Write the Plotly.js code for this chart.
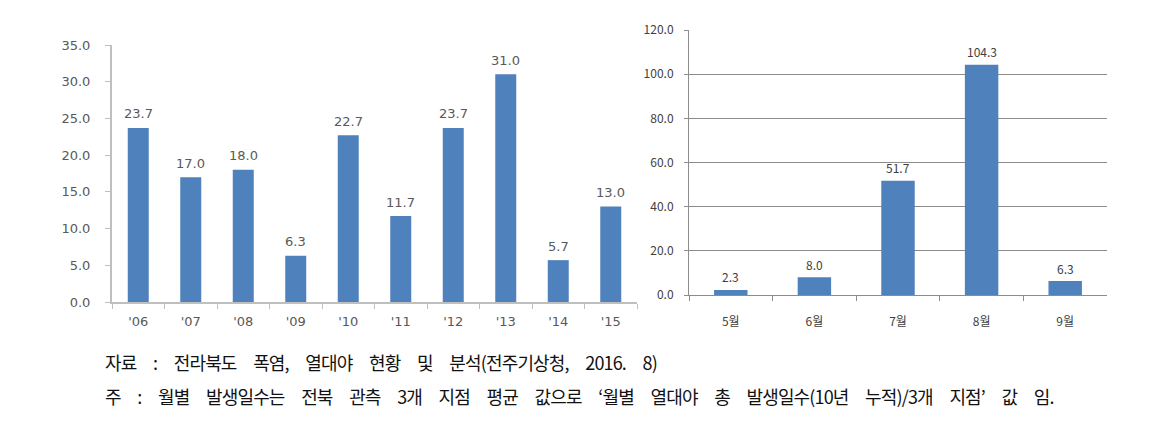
<!DOCTYPE html>
<html><head><meta charset="utf-8">
<script src="https://cdn.plot.ly/plotly-3.0.1.min.js"></script>
<style>html,body{margin:0;padding:0;background:#fff}#c{width:1162px;height:432px}</style>
</head><body><div id="c"></div>
<script>
const years = ["'06","'07","'08","'09","'10","'11","'12","'13","'14","'15"];
const yearDays = [23.7,17.0,18.0,6.3,22.7,11.7,23.7,31.0,5.7,13.0];
const months = ["5월","6월","7월","8월","9월"];
const monthDays = [2.3,8.0,51.7,104.3,6.3];
const leftTicks = [0,5,10,15,20,25,30,35];
const rightTicks = [0,20,40,60,80,100,120];
const note1 = "자료 : 전라북도 폭염, 열대야 현황 및 분석(전주기상청, 2016. 8)";
const note2 = "주 : 월별 발생일수는 전북 관측 3개 지점 평균 값으로 ‘월별 열대야 총 발생일수(10년 누적)/3개 지점’ 값 임.";

const W=1162,H=432;
const blue = "#4F81BD";
const fL = {family:"DejaVu Sans, Verdana, sans-serif", size:13, color:"#595959"};
const fR = {family:"Noto Sans CJK KR, sans-serif", size:12, color:"#404040"};

const traces = [
  {type:"bar", x:years, y:yearDays, xaxis:"x", yaxis:"y", marker:{color:blue}, width:0.4, hoverinfo:"none"},
  {type:"bar", x:months, y:monthDays, xaxis:"x2", yaxis:"y2", marker:{color:blue}, width:0.4, hoverinfo:"none"}
];
const ann = [];
years.forEach((c,i)=>ann.push({x:c,y:yearDays[i],xref:"x",yref:"y",text:yearDays[i].toFixed(1),showarrow:false,yshift:14,font:fL}));
months.forEach((c,i)=>ann.push({x:c,y:monthDays[i],xref:"x2",yref:"y2",text:monthDays[i].toFixed(1),showarrow:false,yshift:13,font:fR}));
const nf = {family:"Noto Sans CJK KR, sans-serif", size:18, color:"#111"};
const sp = t => '<span style="word-spacing:13.4px;letter-spacing:-0.85px">'+t+'</span>';
ann.push({xref:"paper",yref:"paper",x:103/W,y:1-362/H,xanchor:"left",yanchor:"middle",text:sp(note1),showarrow:false,font:nf});
ann.push({xref:"paper",yref:"paper",x:103/W,y:1-396/H,xanchor:"left",yanchor:"middle",text:sp(note2),showarrow:false,font:nf});

const layout = {
  width:W, height:H, margin:{l:0,r:0,t:0,b:0}, showlegend:false,
  paper_bgcolor:"#fff", plot_bgcolor:"rgba(0,0,0,0)",
  xaxis:{domain:[112/W,637/W], anchor:"y", type:"category", showline:true, linecolor:"#BFBFBF", linewidth:2,
    ticks:"outside", tickson:"boundaries", ticklen:5, tickcolor:"#BFBFBF", tickwidth:1, showgrid:false, zeroline:false, tickfont:fL, ticklabelstandoff:6},
  yaxis:{domain:[1-302/H,1-45/H], anchor:"x", range:[0,35], tickvals:leftTicks, ticktext:leftTicks.map(v=>v.toFixed(1)),
    showline:true, linecolor:"#BFBFBF", linewidth:2, ticks:"outside", ticklen:5, tickcolor:"#BFBFBF", showgrid:false, zeroline:false, tickfont:fL, ticklabelstandoff:12},
  xaxis2:{domain:[689/W,1107/W], anchor:"y2", type:"category", showline:true, linecolor:"#8C8C8C", linewidth:1,
    ticks:"outside", tickson:"boundaries", ticklen:5, tickcolor:"#8C8C8C", showgrid:false, zeroline:false, tickfont:fR, ticklabelstandoff:16},
  yaxis2:{domain:[1-295/H,1-30/H], anchor:"x2", range:[0,120], tickvals:rightTicks, ticktext:rightTicks.map(v=>v.toFixed(1)),
    showline:true, linecolor:"#8C8C8C", linewidth:1, ticks:"outside", ticklen:4, tickcolor:"#8C8C8C", showgrid:true, gridcolor:"#8C8C8C", gridwidth:1, zeroline:false, tickfont:fR, ticklabelstandoff:8},
  annotations:ann
};
Plotly.newPlot("c", traces, layout, {displayModeBar:false, staticPlot:true});
</script></body></html>
